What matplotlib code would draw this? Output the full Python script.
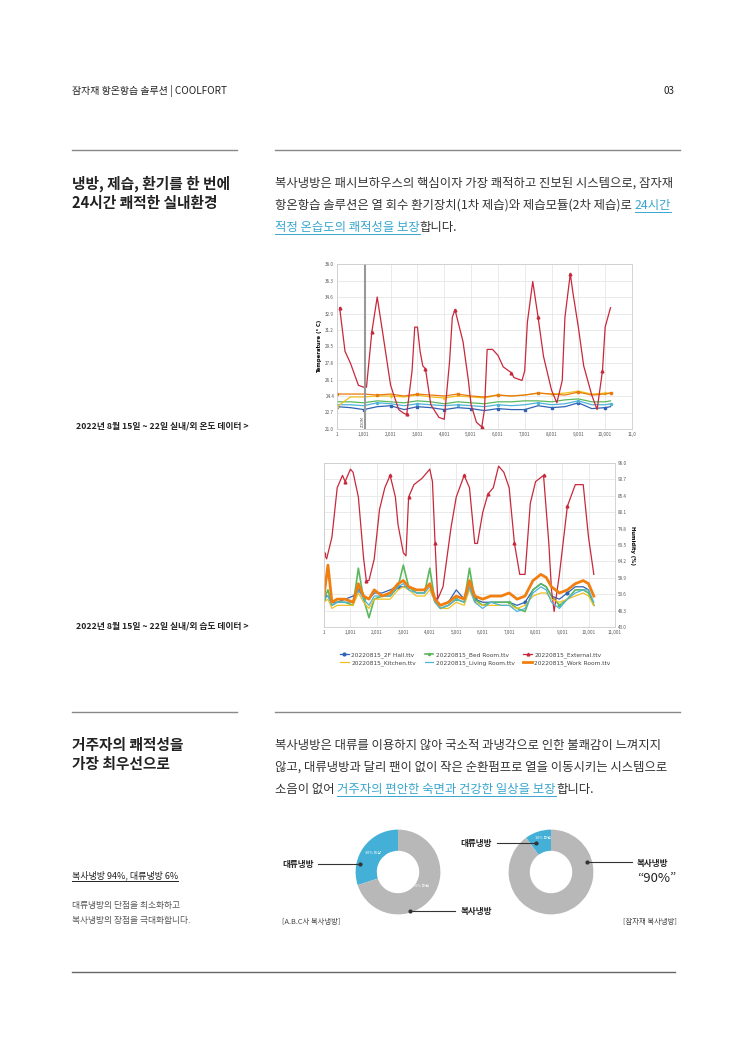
import matplotlib
matplotlib.use("Agg")
import matplotlib.pyplot as plt
import numpy as np

plt.rcParams['font.family'] = 'sans-serif'
plt.rcParams['font.sans-serif'] = ['Noto Sans CJK JP', 'Noto Sans CJK KR', 'DejaVu Sans']

W, H = 750, 1061
# ---------------- data ----------------
temp_ticks = [21.0, 22.7, 24.4, 26.1, 27.8, 29.5, 31.2, 32.9, 34.6, 36.3, 38.0]
hum_ticks = [43.0, 48.3, 53.6, 58.9, 64.2, 69.5, 74.8, 80.1, 85.4, 90.7, 96.0]
x_ticks = [1, 1001, 2001, 3001, 4001, 5001, 6001, 7001, 8001, 9001, 10001, 11001]
x_labels = ["1", "1,001", "2,001", "3,001", "4,001", "5,001", "6,001", "7,001", "8,001", "9,001", "10,001", "11,0"]

t_ext_x = [100, 300, 500, 800, 1000, 1100, 1300, 1500, 1700, 2000, 2300, 2500, 2600, 2800, 2900, 3000, 3100, 3200,
           3300, 3500, 3800, 4000, 4200, 4300, 4400, 4500, 4700, 4900, 5000, 5200, 5400, 5500, 5600, 5800, 6000,
           6200, 6500, 6600, 6900, 7000, 7100, 7300, 7500, 7700, 8000, 8200, 8400, 8500, 8700, 8800, 9000, 9200,
           9500, 9700, 9900, 10000, 10200]
t_ext_y = [33.5, 29.0, 27.8, 25.5, 25.3, 25.3, 31.0, 34.6, 31.0, 25.5, 23.0, 22.6, 22.5, 27.0, 31.5, 31.5, 29.0, 27.5,
           27.2, 23.5, 22.2, 22.0, 28.0, 32.5, 33.3, 32.2, 30.0, 26.0, 23.5, 21.7, 21.2, 23.0, 29.2, 29.2, 28.6,
           27.4, 26.8, 26.3, 26.0, 27.0, 32.0, 36.2, 32.5, 28.5, 25.0, 23.7, 26.0, 32.5, 37.0, 35.0, 31.5, 27.5,
           24.5, 23.0, 27.0, 31.5, 33.5]
t_in_x = [1, 500, 1000, 1500, 2000, 2500, 3000, 3500, 4000, 4500, 5000, 5500, 6000, 6500, 7000, 7500, 8000, 8500,
          9000, 9500, 10000, 10200]
t_work = [24.6, 24.6, 24.6, 24.5, 24.6, 24.4, 24.6, 24.5, 24.4, 24.6, 24.4, 24.3, 24.5, 24.4, 24.5, 24.7, 24.6, 24.5,
          24.8, 24.5, 24.6, 24.7]
t_kitchen = [23.3, 24.3, 24.3, 24.4, 24.4, 24.3, 24.5, 24.3, 24.2, 24.4, 24.3, 24.2, 24.5, 24.4, 24.5, 24.7, 24.6,
             24.7, 24.9, 24.6, 24.7, 24.7]
t_bed = [23.8, 23.8, 23.7, 23.9, 23.8, 23.7, 23.9, 23.8, 23.6, 23.8, 23.7, 23.6, 23.8, 23.8, 23.9, 23.9, 23.8, 24.0,
         24.1, 23.8, 23.8, 23.9]
t_living = [23.5, 23.5, 23.4, 23.7, 23.6, 23.4, 23.6, 23.5, 23.4, 23.5, 23.4, 23.3, 23.5, 23.4, 23.5, 23.7, 23.5,
            23.6, 23.9, 23.5, 23.5, 23.6]
t_hall = [23.3, 23.2, 23.0, 23.3, 23.4, 23.0, 23.3, 23.2, 23.0, 23.2, 23.1, 22.9, 23.1, 23.0, 23.0, 23.4, 23.2,
          23.3, 23.7, 23.1, 23.2, 23.3]

h_ext_x = [0, 100, 300, 500, 700, 800, 1000, 1100, 1300, 1500, 1600, 1700, 1900, 2100, 2300, 2500, 2700, 2800, 3000,
           3100, 3200, 3400, 3700, 4000, 4100, 4200, 4300, 4500, 4800, 5000, 5300, 5500, 5700, 5800, 6000, 6200,
           6400, 6600, 6800, 7000, 7200, 7400, 7600, 7800, 8000, 8300, 8500, 8600, 8700, 8900, 9200, 9500, 9800,
           10000, 10200]
h_ext_y = [67, 65, 72, 88, 92, 90, 94, 93, 85, 65, 58, 58, 65, 81, 88, 92, 85, 76, 67, 66, 85, 89, 91, 94, 90, 70,
           52, 56, 75, 85, 92, 88, 70, 70, 80, 86, 88, 95, 93, 88, 70, 60, 60, 83, 90, 92, 70, 55, 48, 60, 82, 89,
           89, 72, 60]
h_in_x = [0, 150, 300, 500, 800, 1100, 1300, 1500, 1700, 1900, 2200, 2500, 2800, 3000, 3200, 3500, 3800, 4000, 4200,
          4400, 4700, 5000, 5300, 5500, 5700, 6000, 6300, 6700, 7000, 7300, 7600, 7900, 8200, 8400, 8600, 8900,
          9200, 9500, 9800, 10000, 10200]
h_work = [53, 63, 51, 52, 52, 51, 57, 53, 52, 55, 53, 54, 57, 58, 56, 55, 55, 57, 52, 50, 51, 53, 52, 58, 53, 52,
          53, 53, 54, 52, 53, 58, 60, 59, 56, 54, 55, 57, 58, 57, 53]
h_bed = [52, 55, 50, 51, 51, 50, 62, 52, 46, 52, 53, 53, 56, 63, 56, 54, 54, 62, 51, 49, 50, 52, 51, 62, 52, 50,
         51, 51, 51, 49, 48, 55, 57, 56, 53, 50, 52, 55, 55, 54, 50]
h_kitchen = [51, 52, 49, 50, 50, 50, 54, 51, 49, 52, 52, 52, 55, 56, 55, 53, 53, 55, 51, 49, 49, 51, 50, 55, 51,
             50, 50, 50, 50, 49, 50, 53, 54, 54, 52, 51, 52, 53, 54, 53, 50]
h_living = [52, 53, 50, 51, 51, 51, 55, 52, 50, 53, 53, 53, 56, 57, 55, 54, 54, 56, 51, 49, 50, 52, 51, 56, 51, 49,
            51, 50, 50, 48, 49, 54, 56, 55, 51, 49, 52, 54, 55, 55, 51]
h_hall = [53, 53, 51, 51, 52, 53, 55, 53, 52, 54, 54, 55, 56, 56, 56, 55, 55, 57, 52, 50, 51, 55, 52, 56, 52, 51,
          51, 51, 51, 50, 51, 55, 57, 56, 53, 52, 54, 56, 56, 55, 50]

donut_left = [30, 70]
donut_right = [10, 90]

BLUE_T = "#3aa6cf"
TXT = "#222222"

fig = plt.figure(figsize=(W / 100, H / 100), dpi=100)
fig.patch.set_facecolor("white")


def fy(y):
    return 1 - y / H


def ax_px(l, t, r, b):
    return fig.add_axes([l / W, 1 - b / H, (r - l) / W, (b - t) / H])


renderer = fig.canvas.get_renderer()


def runs(x, y, parts, size, weight="normal"):
    for text, color, ul in parts:
        t = fig.text(x / W, fy(y), text, fontsize=size, color=color, va="baseline", weight=weight)
        bb = t.get_window_extent(renderer)
        if ul:
            fig.add_artist(plt.Line2D([x / W, (x + bb.width) / W], [fy(y + 2.5)] * 2, color=color, lw=0.7))
        x += bb.width


def hline(x0, x1, y, c="#888888", lw=1.0):
    fig.add_artist(plt.Line2D([x0 / W, x1 / W], [fy(y), fy(y)], color=c, lw=lw))


# header
fig.text(72 / W, fy(94), "잠자재 항온항습 솔루션 | COOLFORT", fontsize=7.2, color=TXT)
fig.text(675 / W, fy(94), "03", fontsize=7.2, color=TXT, ha="right")
hline(72, 237, 150); hline(275, 680, 150)
hline(72, 237, 712); hline(275, 680, 712)
hline(72, 675, 972, c="#666666")

HEAD = 10.6
fig.text(72 / W, fy(189), "냉방, 제습, 환기를 한 번에", fontsize=HEAD, weight="bold", color=TXT)
fig.text(72 / W, fy(208), "24시간 쾌적한 실내환경", fontsize=HEAD, weight="bold", color=TXT)
BODY = 8.9
BC = "#333333"
runs(275, 187, [("복사냉방은 패시브하우스의 핵심이자 가장 쾌적하고 진보된 시스템으로, 잠자재", BC, False)], BODY)
runs(275, 209, [("항온항습 솔루션은 열 회수 환기장치(1차 제습)와 제습모듈(2차 제습)로 ", BC, False),
                ("24시간", BLUE_T, True)], BODY)
runs(275, 231, [("적정 온습도의 쾌적성을 보장", BLUE_T, True), ("합니다.", BC, False)], BODY)

fig.text(76 / W, fy(429), "2022년 8월 15일 ~ 22일 실내/외 온도 데이터 >", fontsize=6.3, color=TXT, weight="bold")
fig.text(76 / W, fy(628), "2022년 8월 15일 ~ 22일 실내/외 습도 데이터 >", fontsize=6.3, color=TXT, weight="bold")

# ---------- temperature chart ----------
ax1 = ax_px(337, 264, 632, 429)
lw = 0.9
ax1.plot(t_in_x, t_hall, color="#2f62b4", lw=lw, marker="s", ms=2, markevery=2)
ax1.plot(t_in_x, t_living, color="#4fb3d9", lw=lw, marker="o", ms=1.5, markevery=3)
ax1.plot(t_in_x, t_bed, color="#5cb85c", lw=lw)
ax1.plot(t_in_x, t_kitchen, color="#f0c020", lw=lw, marker="d", ms=1.5, markevery=4)
ax1.plot(t_in_x, t_work, color="#e87a10", lw=lw, marker="s", ms=1.5, markevery=3)
ax1.plot(t_ext_x, t_ext_y, color="#c8283c", lw=0.9, marker="^", ms=2, markevery=6)
ax1.axvline(1050, color="#999999", lw=1.5)
ax1.text(900, 21.3, "ZOOM", rotation=90, fontsize=2.5, color="#555555", family="DejaVu Sans")
ax1.set_ylim(21.0, 38.0)
ax1.set_xlim(1, 11001)
ax1.set_yticks(temp_ticks)
ax1.set_yticklabels([f"{v:.1f}" for v in temp_ticks])
ax1.set_xticks(x_ticks)
ax1.set_xticklabels(x_labels)
ax1.set_ylabel("Temperature (° C)", fontsize=3.8, weight="bold", labelpad=2, family="DejaVu Sans")
ax1.grid(True, color="#e6e6e6", lw=0.6)
ax1.tick_params(labelsize=3.3, length=0, pad=2, colors="#555555")
for s in ax1.spines.values():
    s.set_color("#cccccc"); s.set_linewidth(0.6)

# ---------- humidity chart ----------
ax2 = ax_px(324, 463, 615, 627)
ax2.plot(h_in_x, h_hall, color="#2f62b4", lw=lw, marker="o", ms=2, markevery=6, label="20220815_2F Hall.ttv")
ax2.plot(h_in_x, h_bed, color="#5cb85c", lw=1.2, marker="o", ms=1.5, markevery=7, label="20220815_Bed Room.ttv")
ax2.plot(h_ext_x, h_ext_y, color="#c8283c", lw=0.9, marker="^", ms=2, markevery=5, label="20220815_External.ttv")
ax2.plot(h_in_x, h_kitchen, color="#f0c020", lw=lw, label="20220815_Kitchen.ttv")
ax2.plot(h_in_x, h_living, color="#4fb3d9", lw=lw, label="20220815_Living Room.ttv")
ax2.plot(h_in_x, h_work, color="#f07f10", lw=2.0, label="20220815_Work Room.ttv")
ax2.set_ylim(43.0, 96.0)
ax2.set_xlim(1, 11001)
ax2.yaxis.tick_right()
ax2.yaxis.set_label_position("right")
ax2.set_yticks(hum_ticks)
ax2.set_yticklabels([f"{v:.1f}" for v in hum_ticks])
ax2.set_xticks(x_ticks)
ax2.set_xticklabels(x_labels[:-1] + ["11,001"])
ax2.set_ylabel("Humidity (%)", fontsize=3.8, weight="bold", rotation=270, labelpad=6, family="DejaVu Sans")
ax2.grid(True, color="#e6e6e6", lw=0.6)
ax2.tick_params(labelsize=3.3, length=0, pad=2, colors="#555555")
for s in ax2.spines.values():
    s.set_color("#cccccc"); s.set_linewidth(0.6)
handles, labels = ax2.get_legend_handles_labels()
order = [0, 3, 1, 4, 2, 5]
leg = ax2.legend([handles[i] for i in order], [labels[i] for i in order],
                 loc="upper center", bbox_to_anchor=(0.52, -0.12), ncol=3, fontsize=4.2, frameon=False,
                 handlelength=1.5, columnspacing=1.5, handletextpad=0.4, labelspacing=0.4)
for t in leg.get_texts():
    t.set_color("#444444")
    t.set_family("DejaVu Sans")

# ---------- section 2 ----------
fig.text(72 / W, fy(750), "거주자의 쾌적성을", fontsize=HEAD, weight="bold", color=TXT)
fig.text(72 / W, fy(769), "가장 최우선으로", fontsize=HEAD, weight="bold", color=TXT)
runs(275, 749, [("복사냉방은 대류를 이용하지 않아 국소적 과냉각으로 인한 불쾌감이 느껴지지", BC, False)], BODY)
runs(275, 771, [("않고, 대류냉방과 달리 팬이 없이 작은 순환펌프로 열을 이동시키는 시스템으로", BC, False)], BODY)
runs(275, 793, [("소음이 없어 ", BC, False), ("거주자의 편안한 숙면과 건강한 일상을 보장", BLUE_T, True),
                ("합니다.", BC, False)], BODY)

runs(72, 878, [("복사냉방 94%, 대류냉방 6%", TXT, True)], 6.5)
fig.text(72 / W, fy(908), "대류냉방의 단점을 최소화하고", fontsize=6.3, color="#555555")
fig.text(72 / W, fy(923), "복사냉방의 장점을 극대화합니다.", fontsize=6.3, color="#555555")

DB = "#44b0d8"
DG = "#b8b8b8"


def donut(cx, cy, r, vals):
    a = fig.add_axes([(cx - r) / W, fy(cy + r), 2 * r / W, 2 * r / H])
    a.pie(vals, colors=[DB, DG], startangle=90, counterclock=True,
          wedgeprops=dict(width=0.5, edgecolor="none"))
    a.set_aspect("equal")
    return a


aL = donut(398, 872, 53, donut_left)
aR = donut(551, 872, 53, donut_right)
aL.text(-0.6, 0.42, f"{donut_left[0]}% 이상", fontsize=2.8, color="white", ha="center")
aL.text(0.55, -0.35, f"{donut_left[1]}% 미만", fontsize=2.8, color="white", ha="center")
aR.text(-0.18, 0.78, f"{donut_right[0]}% 미만", fontsize=2.8, color="white", ha="center")


def callout(x0, x1, y, dot_right=True):
    hline(x0, x1, y, c="#333333", lw=0.8)
    xd = x1 if dot_right else x0
    fig.add_artist(plt.Line2D([xd / W], [fy(y)], marker="o", ms=2, color="#333333"))


LB = 6.2
fig.text(282 / W, fy(867), "대류냉방", fontsize=LB, color=TXT, weight="bold")
callout(318, 360, 864)
fig.text(461 / W, fy(914), "복사냉방", fontsize=LB, color=TXT, weight="bold")
callout(410, 455, 911, dot_right=False)
fig.text(460 / W, fy(846), "대류냉방", fontsize=LB, color=TXT, weight="bold")
callout(497, 536, 843)
fig.text(637 / W, fy(866), "복사냉방", fontsize=LB, color=TXT, weight="bold")
callout(587, 632, 862, dot_right=False)
fig.text(657 / W, fy(882), "“90%”", fontsize=9.5, color=TXT, ha="center")
fig.text(282 / W, fy(924), "[A.B.C사 복사냉방]", fontsize=5.3, color="#444444")
fig.text(677 / W, fy(924), "[잠자재 복사냉방]", fontsize=5.3, color="#444444", ha="right")

fig.savefig("out.png", dpi=100, facecolor="white")
